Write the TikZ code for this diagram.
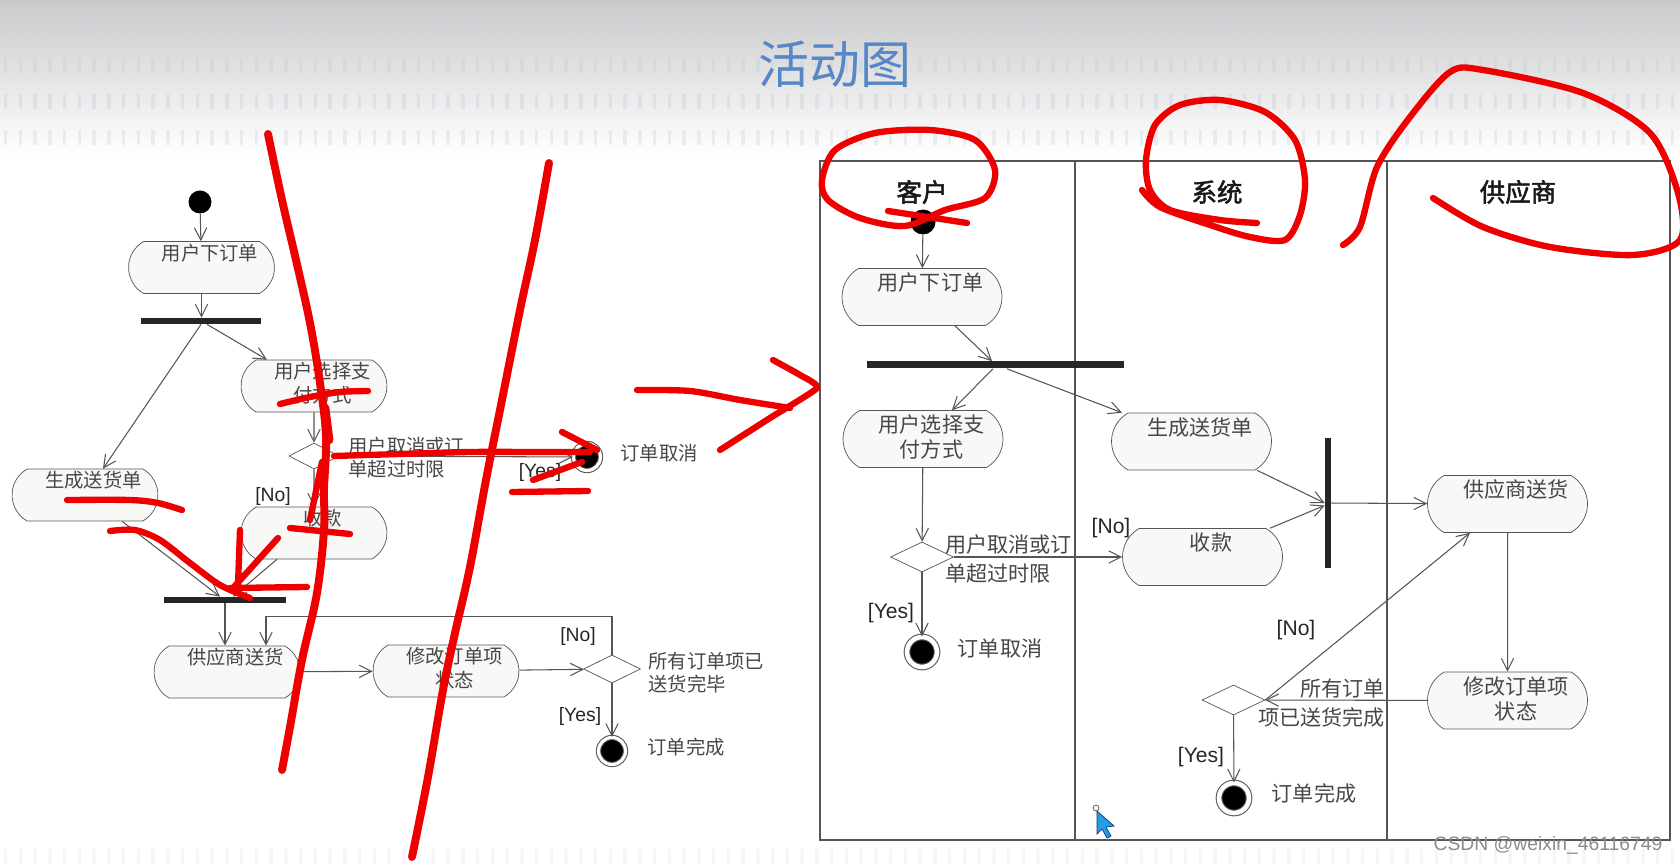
\documentclass[tikz,border=0pt]{standalone}
\usepackage{fontspec}
\setmainfont{Liberation Sans}
\newfontfamily\cjk{Noto Sans CJK SC}
\newfontfamily\cjkbold[FakeBold=2]{Noto Sans CJK SC}
\usetikzlibrary{shapes.geometric, shapes.misc, arrows.meta, calc}
\definecolor{linha}{RGB}{85,85,85}
\definecolor{fundo}{RGB}{248,248,246}
\definecolor{tituloazul}{RGB}{86,136,200}
\definecolor{caneta}{RGB}{238,0,0}
\definecolor{pontos}{RGB}{200,212,226}
\newcommand{\duas}[2]{\begin{tabular}[t]{@{}c@{}}#1\\#2\end{tabular}}
\tikzset{
    acao/.style={rounded rectangle, rounded rectangle arc length=120, draw=linha, fill=fundo,
        font=\cjk\fontsize{11}{13.5}\selectfont, text=black!72,
        execute at begin node={\hspace*{0.34cm}},
        inner xsep=2pt, inner ysep=2pt, text height=8.5pt, text depth=17pt, minimum width=3.06cm},
    acaoB/.style={acao, font=\cjk\fontsize{12}{13.5}\selectfont,
        text height=10.6pt, text depth=17.8pt, minimum width=3.34cm},
    barra/.style={fill=black!85, inner sep=0pt},
    decisao/.style={diamond, draw=linha, fill=white, inner sep=0pt, minimum width=1cm, minimum height=0.52cm},
    inicio/.style={circle, fill=black, inner sep=0pt, minimum size=0.46cm},
    fim/.style={circle, fill=black, draw=linha, line width=0.6pt, double=white, double distance=1.8pt,
        inner sep=0pt, minimum size=0.54cm},
    seta/.style={draw=linha, line width=0.6pt, -{Straight Barb[length=7pt, width=7pt]}},
    rotulo/.style={font=\fontsize{11}{13}\selectfont, text=black!85, inner sep=0pt},
    texto/.style={font=\cjk\fontsize{11}{13}\selectfont, text=black!72, align=left, inner sep=0pt},
    raia/.style={font=\cjkbold\fontsize{14.5}{16}\selectfont, text=black!90, inner sep=0pt},
    risco/.style={draw=caneta, line width=3.6pt, line cap=round, line join=round}
}

\begin{document}
\begin{tikzpicture}[x=0.02cm, y=-0.02cm]
    % Fundo
    \useasboundingbox (0,0) rectangle (1680,864);
    \fill[white] (0,0) rectangle (1680,864);
    \shade[top color=black!21, bottom color=white] (0,0) rectangle (1680,155);
    \foreach \yy/\aa in {28/0.5, 66/0.5, 102/0.45, 138/0.35, 856/0.2}
        \draw[pontos, opacity=\aa, line width=0.3cm, dash pattern=on 0.07cm off 0.225cm] (4,\yy) -- (1680,\yy);

    % Titulo
    \node[font=\cjk\fontsize{29}{32}\selectfont, text=tituloazul] (titulo) at (835,64) {活动图};

    % Diagrama da esquerda
    \node[inicio] (ini1) at (200,202) {};
    \node[acao] (pedido1) at (201.5,267.5) {用户下订单};
    \node[barra, minimum width=2.42cm, minimum height=0.12cm] (bifA) at (201,321) {};
    \node[acao] (pagar1) at (314,386) {\duas{用户选择支}{付方式}};
    \node[acao] (guia1) at (85,495) {生成送货单};
    \node[decisao] (dec1) at (314,456) {};
    \node[acao] (receber1) at (314,533) {收款};
    \node[barra, minimum width=2.44cm, minimum height=0.12cm] (junA) at (225,600) {};
    \node[acao] (entrega1) at (227,672) {供应商送货};
    \node[acao] (status1) at (446,671) {\duas{修改订单项}{状态}};
    \node[decisao, minimum width=1.14cm, minimum height=0.56cm] (dec2) at (612,669) {};
    \node[fim] (cancel1) at (587,457) {};
    \node[fim] (final1) at (612,751) {};

    \node[texto, anchor=west] (cond1) at (348,458) {用户取消或订\\单超过时限};
    \node[texto, anchor=west] (cond2) at (648,673) {所有订单项已\\送货完毕};
    \node[texto] (lcancel1) at (659,453) {订单取消};
    \node[texto] (lfinal1) at (686,747) {订单完成};
    \node[rotulo] (nao1) at (273,497) {[No]};
    \node[rotulo] (sim1) at (540,473) {[Yes]};
    \node[rotulo] (nao2) at (578,637) {[No]};
    \node[rotulo] (sim2) at (580,717) {[Yes]};

    \draw[seta] (ini1) -- (pedido1);
    \draw[seta] (pedido1.south) -- (pedido1.south |- bifA.north);
    \draw[seta] ([xshift=0.12cm]bifA.south) -- ([xshift=-0.94cm]pagar1.north);
    \draw[seta] (bifA.south) -- ([xshift=0.36cm]guia1.north);
    \draw[seta] (pagar1) -- (dec1);
    \draw[seta] (dec1) -- (receber1);
    \draw[seta] (dec1) -- (cancel1);
    \draw[seta] ([xshift=0.74cm]guia1.south) -- ([xshift=-0.1cm]junA.north);
    \draw[seta] ([xshift=-0.74cm]receber1.south) -- ([xshift=0.16cm]junA.north);
    \draw[seta] (junA.south) -- (junA.south |- entrega1.north);
    \draw[seta] (entrega1) -- (status1);
    \draw[seta] (status1) -- (dec2);
    \draw[seta] (dec2.north) -- ++(0,-38) -| ([xshift=0.78cm]entrega1.north);
    \draw[seta] (dec2) -- (final1);

    % Diagrama com raias
    \draw[linha, line width=0.8pt] (820,161) rectangle (1670,840);
    \draw[linha, line width=0.8pt] (1075,161) -- (1075,840) (1387,161) -- (1387,840);
    \node[raia] (cliente) at (922,192) {客户};
    \node[raia] (sistema) at (1217,192) {系统};
    \node[raia] (fornecedor) at (1518,192) {供应商};

    \node[inicio, minimum size=0.5cm] (ini2) at (923,222) {};
    \node[acaoB] (pedido2) at (922,297) {用户下订单};
    \node[barra, minimum width=5.14cm, minimum height=0.14cm] (bifB) at (995.5,365) {};
    \node[acaoB] (pagar2) at (923,439) {\duas{用户选择支}{付方式}};
    \node[acaoB] (guia2) at (1191.5,441.5) {生成送货单};
    \node[decisao, minimum width=1.26cm, minimum height=0.6cm] (dec3) at (922,557) {};
    \node[acaoB] (receber2) at (1202.5,557) {收款};
    \node[fim, minimum size=0.6cm, double distance=2.6pt] (cancel2) at (922,652) {};
    \node[barra, minimum width=0.12cm, minimum height=2.6cm] (junB) at (1328,503) {};
    \node[acaoB] (entrega2) at (1507.5,504) {供应商送货};
    \node[acaoB] (status2) at (1507.5,700.5) {\duas{修改订单项}{状态}};
    \node[decisao, minimum width=1.26cm, minimum height=0.6cm] (dec4) at (1233.5,700) {};
    \node[fim, minimum size=0.6cm, double distance=2.6pt] (final2) at (1234,798) {};

    \node[texto, font=\cjk\fontsize{12}{16.5}\selectfont, anchor=west] (cond3) at (945,559) {用户取消或订\\单超过时限};
    \node[texto, font=\cjk\fontsize{12}{17}\selectfont, anchor=east, align=right] (cond4) at (1385,703) {所有订单\\项已送货完成};
    \node[texto, font=\cjk\fontsize{12}{14}\selectfont] (lcancel2) at (1000,648) {订单取消};
    \node[texto, font=\cjk\fontsize{12}{14}\selectfont] (lfinal2) at (1314,793) {订单完成};
    \node[rotulo, font=\fontsize{12}{14}\selectfont] (nao3) at (1111,528) {[No]};
    \node[rotulo, font=\fontsize{12}{14}\selectfont] (sim3) at (891,613) {[Yes]};
    \node[rotulo, font=\fontsize{12}{14}\selectfont] (nao4) at (1296,630) {[No]};
    \node[rotulo, font=\fontsize{12}{14}\selectfont] (sim4) at (1201,757) {[Yes]};

    \draw[seta] (ini2) -- (pedido2);
    \draw[seta] ([xshift=0.66cm]pedido2.south) -- ([xshift=-0.07cm]bifB.north);
    \draw[seta] ([xshift=-0.05cm]bifB.south) -- ([xshift=0.58cm]pagar2.north);
    \draw[seta] ([xshift=0.23cm]bifB.south) -- ([xshift=-1.39cm]guia2.north);
    \draw[seta] (pagar2) -- (dec3);
    \draw[seta] (dec3) -- (receber2);
    \draw[seta] (dec3) -- (cancel2);
    \draw[seta] ([xshift=1.31cm]guia2.south) -- (junB.west);
    \draw[seta] ([xshift=1.35cm]receber2.north) -- ([yshift=-0.05cm]junB.west);
    \draw[seta] (junB) -- (entrega2);
    \draw[seta] (entrega2) -- (status2);
    \draw[seta] (status2) -- (dec4);
    \draw[seta] (dec4.east) -- ([xshift=-0.75cm]entrega2.south);
    \draw[seta] (dec4) -- (final2);

    % Marcas a caneta vermelha
    \draw[risco, line width=4.5pt] plot[smooth, tension=0.6] coordinates {(268,134) (282,200) (296,260) (310,323) (320,383) (326,437) (324,490) (324,530) (317,593) (302,660) (290,727) (282,770)};
    \draw[risco, line width=5pt] (325,408) -- (329,440);
    \draw[risco] (322,462) -- (310,520);
    \draw[risco] plot[smooth] coordinates {(280,404) (310,397) (340,392) (368,391)};
    \draw[risco] plot[smooth] coordinates {(334,456) (400,454) (470,452) (540,452) (590,452)};
    \draw[risco] (562,432) -- (597,450) (533,480) -- (582,462);
    \draw[risco] (512,492) -- (588,491);
    \draw[risco] plot[smooth] coordinates {(67,500) (130,500) (158,503) (182,510)};
    \draw[risco] plot[smooth] coordinates {(110,531) (135,530) (160,540) (190,563) (220,585) (250,598)};
    \draw[risco] (240,530) -- (238,585) (278,538) -- (233,588) (230,588) -- (307,587);
    \draw[risco] (290,528) -- (350,534);
    \draw[risco, line width=4.5pt] plot[smooth, tension=0.6] coordinates {(549,163) (535,240) (520,310) (502,400) (486,480) (470,567) (455,633) (443,690) (428,777) (412,857)};
    \draw[risco] plot[smooth] coordinates {(637,390) (690,391) (740,400) (790,408)};
    \draw[risco] plot[smooth, tension=0.3] coordinates {(773,360) (800,375) (817,388) (770,418) (720,450)};
    \draw[risco] plot[smooth cycle] coordinates {(822,180) (835,150) (875,133) (930,130) (975,140) (995,170) (985,198) (945,210) (905,226) (860,218) (828,200)};
    \draw[risco] (888,211) -- (967,223);
    \draw[risco] plot[smooth] coordinates {(1142,190) (1160,207) (1210,225) (1250,237) (1285,240) (1300,215) (1305,180) (1295,140) (1265,112) (1220,100) (1180,105) (1155,125) (1146,160) (1150,190) (1170,210) (1220,220) (1257,223)};
    \draw[risco] plot[smooth] coordinates {(1343,245) (1360,227) (1377,167) (1410,117) (1450,72) (1483,70) (1583,93) (1650,133) (1678,193) (1680,240) (1633,255) (1550,247) (1483,227) (1433,198)};

    % Cursor e marca d'agua
    \filldraw[fill={rgb,255:red,35;green,155;blue,230}, draw={rgb,255:red,20;green,60;blue,120}, line width=0.4pt]
        (1097,811) -- (1097,834) -- (1102,829) -- (1107,838) -- (1111,836) -- (1106,827) -- (1114,826) -- cycle;
    \draw[black!70, line width=0.4pt] (1096,808) circle[radius=0.06cm];
    \node[font=\fontsize{11}{13}\selectfont, text=black!45] (marcadagua) at (1548,845) {CSDN @weixin\_46116749};
\end{tikzpicture}
\end{document}
